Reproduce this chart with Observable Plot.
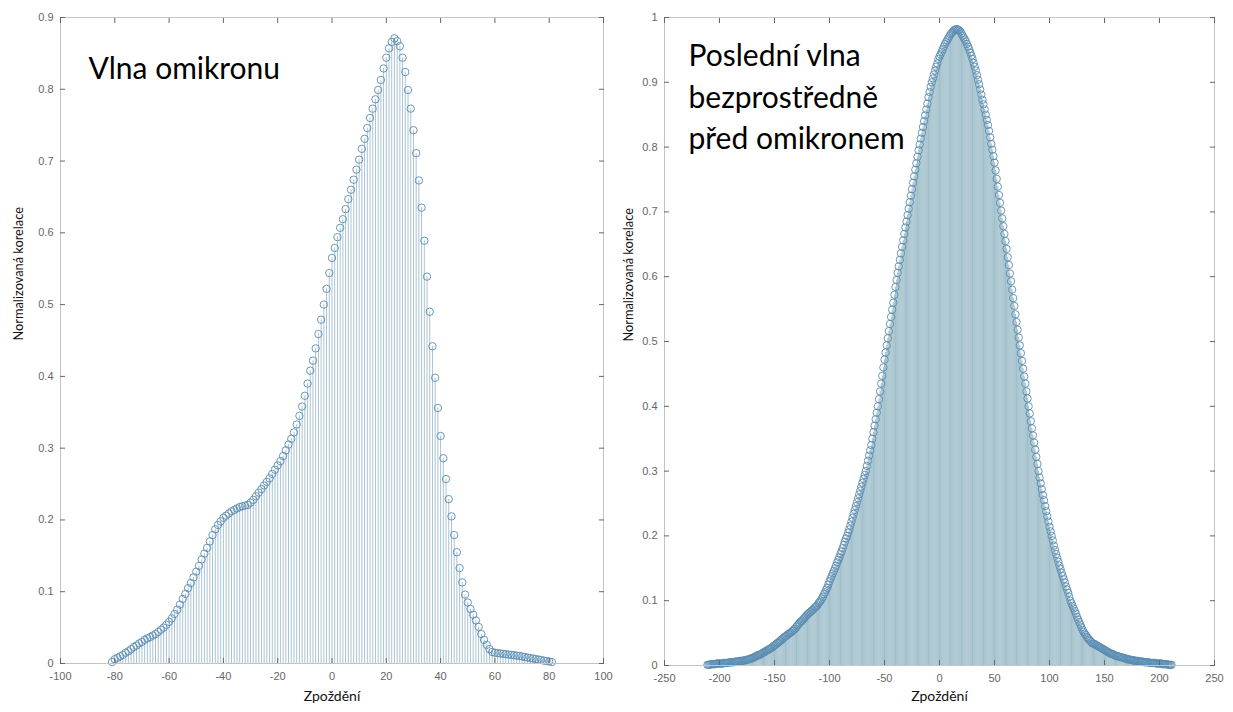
<!DOCTYPE html>
<html>
<head>
<meta charset="utf-8">
<script src="https://cdn.jsdelivr.net/npm/d3@7"></script>
<script src="https://cdn.jsdelivr.net/npm/@observablehq/plot@0.6"></script>
<style>
  html, body { margin: 0; padding: 0; background: #fff; }
  #wrap { position: relative; width: 1233px; height: 712px; overflow: hidden; }
  .panel { position: absolute; top: 0; }
</style>
</head>
<body>
<div id="wrap">
  <div class="panel" id="left" style="left:0px"></div>
  <div class="panel" id="right" style="left:616px"></div>
</div>
<script>
// ---------- DATA ----------
// Left panel: "Vlna omikronu", lags -81 .. 81 (step 1)
const omikronLagStart = -81;
const omikronValues = [
  0.002,0.006,0.008,0.010,0.012,0.015,0.017,0.020,0.023,0.025,
  0.028,0.030,0.033,0.035,0.037,0.039,0.041,0.044,0.047,0.050,
  0.054,0.058,0.063,0.069,0.075,0.082,0.090,0.097,0.105,0.112,
  0.120,0.128,0.136,0.145,0.153,0.161,0.170,0.179,0.187,0.193,
  0.198,0.203,0.206,0.209,0.212,0.214,0.216,0.218,0.219,0.220,
  0.221,0.224,0.228,0.233,0.238,0.243,0.248,0.253,0.258,0.264,
  0.270,0.276,0.282,0.289,0.297,0.305,0.313,0.322,0.333,0.345,
  0.358,0.373,0.390,0.408,0.422,0.439,0.459,0.479,0.500,0.522,
  0.544,0.565,0.579,0.594,0.607,0.619,0.633,0.647,0.660,0.674,
  0.688,0.702,0.717,0.731,0.746,0.760,0.773,0.786,0.799,0.813,
  0.829,0.844,0.857,0.866,0.871,0.867,0.860,0.844,0.824,0.799,
  0.773,0.743,0.711,0.673,0.635,0.589,0.539,0.490,0.442,0.398,
  0.356,0.317,0.286,0.257,0.229,0.205,0.179,0.155,0.133,0.113,
  0.096,0.085,0.076,0.068,0.060,0.051,0.041,0.033,0.026,0.020,
  0.016,0.015,0.0145,0.014,0.0135,0.013,0.0125,0.012,0.0115,0.011,
  0.0105,0.0098,0.009,0.0083,0.0075,0.007,0.0063,0.0055,0.005,0.004,
  0.0035,0.0028,0.002
];

// Right panel: "Poslední vlna bezprostředně před omikronem", lags -211 .. 211
const predLagStart = -211;
const predValues = [
  0.001,0.001,0.001,0.002,0.002,0.002,0.002,0.002,0.003,0.003,0.003,
  0.003,0.003,0.003,0.003,0.004,0.004,0.004,0.004,0.004,0.005,
  0.005,0.005,0.005,0.005,0.006,0.006,0.006,0.006,0.007,0.007,
  0.007,0.007,0.008,0.008,0.008,0.009,0.009,0.010,0.010,0.011,
  0.012,0.012,0.013,0.014,0.015,0.016,0.016,0.017,0.018,0.019,
  0.020,0.021,0.022,0.023,0.024,0.025,0.026,0.027,0.028,0.030,
  0.031,0.032,0.034,0.035,0.036,0.038,0.039,0.041,0.042,0.044,
  0.045,0.046,0.048,0.049,0.050,0.051,0.053,0.054,0.056,0.057,
  0.060,0.062,0.064,0.066,0.068,0.069,0.071,0.073,0.075,0.077,
  0.079,0.080,0.082,0.083,0.085,0.086,0.088,0.090,0.091,0.093,
  0.096,0.098,0.100,0.103,0.106,0.110,0.113,0.117,0.120,0.125,
  0.130,0.134,0.138,0.142,0.146,0.150,0.154,0.159,0.163,0.167,
  0.172,0.176,0.181,0.186,0.191,0.196,0.200,0.205,0.210,0.216,
  0.222,0.228,0.234,0.240,0.246,0.252,0.258,0.264,0.270,0.276,
  0.282,0.288,0.294,0.300,0.308,0.316,0.324,0.332,0.340,0.350,
  0.360,0.370,0.380,0.390,0.400,0.411,0.423,0.435,0.447,0.460,
  0.472,0.483,0.494,0.505,0.516,0.527,0.538,0.549,0.560,0.572,
  0.584,0.595,0.606,0.616,0.626,0.636,0.646,0.656,0.666,0.676,
  0.685,0.695,0.705,0.715,0.725,0.735,0.745,0.755,0.765,0.775,
  0.785,0.795,0.804,0.813,0.822,0.831,0.840,0.849,0.858,0.867,
  0.877,0.885,0.893,0.900,0.906,0.912,0.918,0.924,0.929,0.936,
  0.940,0.943,0.947,0.951,0.955,0.959,0.962,0.965,0.968,0.971,
  0.974,0.976,0.978,0.980,0.981,0.982,0.982,0.981,0.980,0.978,
  0.975,0.972,0.969,0.966,0.963,0.959,0.955,0.951,0.946,0.941,
  0.936,0.930,0.924,0.918,0.911,0.904,0.897,0.889,0.881,0.873,
  0.866,0.858,0.850,0.842,0.834,0.825,0.815,0.805,0.796,0.786,
  0.776,0.764,0.751,0.739,0.726,0.714,0.702,0.690,0.678,0.666,
  0.655,0.643,0.630,0.618,0.605,0.593,0.580,0.567,0.555,0.542,
  0.530,0.518,0.506,0.494,0.482,0.470,0.458,0.446,0.435,0.423,
  0.412,0.400,0.389,0.377,0.366,0.355,0.344,0.333,0.322,0.311,
  0.300,0.290,0.281,0.272,0.263,0.255,0.246,0.238,0.230,0.222,
  0.214,0.207,0.200,0.193,0.185,0.178,0.172,0.166,0.160,0.154,
  0.149,0.143,0.138,0.133,0.128,0.122,0.117,0.112,0.106,0.100,
  0.096,0.092,0.088,0.084,0.080,0.075,0.071,0.067,0.063,0.059,
  0.055,0.052,0.049,0.047,0.044,0.042,0.040,0.038,0.036,0.034,
  0.034,0.033,0.032,0.031,0.030,0.029,0.028,0.027,0.026,0.025,
  0.024,0.023,0.022,0.021,0.020,0.019,0.018,0.018,0.017,0.016,
  0.015,0.015,0.014,0.014,0.013,0.013,0.012,0.012,0.011,0.011,
  0.010,0.010,0.009,0.009,0.009,0.008,0.008,0.008,0.007,0.007,
  0.007,0.007,0.006,0.006,0.006,0.006,0.005,0.005,0.005,0.005,
  0.005,0.004,0.004,0.004,0.004,0.004,0.004,0.003,0.003,0.003,
  0.003,0.003,0.003,0.002,0.002,0.002,0.002,0.002,0.001,0.001,0.001,0.001
];

// Axis ticks
const leftXTicks = [-100, -80, -60, -40, -20, 0, 20, 40, 60, 80, 100];
const leftYTicks = [0, 0.1, 0.2, 0.3, 0.4, 0.5, 0.6, 0.7, 0.8, 0.9];
const rightXTicks = [-250, -200, -150, -100, -50, 0, 50, 100, 150, 200, 250];
const rightYTicks = [0, 0.1, 0.2, 0.3, 0.4, 0.5, 0.6, 0.7, 0.8, 0.9, 1];

// Texts
const leftTitle = "Vlna omikronu";
const rightTitle = "Poslední vlna\nbezprostředně\npřed omikronem";
const yLabel = "Normalizovaná korelace";
const xLabel = "Zpoždění";

// ---------- BUILD ----------
const toRows = (start, vals) => vals.map((v, i) => ({lag: start + i, v}));
const omikron = toRows(omikronLagStart, omikronValues);
const pred = toRows(predLagStart, predValues);

const fmt = d => String(d);
const tickColor = "#666";
const labelFont = "Lato, 'Open Sans', sans-serif";

function panel({data, xDomain, yDomain, xTicks, yTicks, title, margins, stem, yLabelDx, yLabelSize, xLabelDy, titleDx, titleDy, titleLH}) {
  return Plot.plot({
    width: margins.width,
    height: 712,
    marginLeft: margins.left,
    marginRight: margins.right,
    marginTop: margins.top,
    marginBottom: margins.bottom,
    style: {fontFamily: "'Liberation Sans', Arial, sans-serif", fontSize: "11px", background: "transparent", overflow: "visible"},
    x: {domain: xDomain, label: null},
    y: {domain: yDomain, label: null},
    marks: [
      Plot.ruleX(data, {x: "lag", y1: 0, y2: "v", stroke: stem.color, strokeWidth: stem.width, strokeOpacity: stem.opacity}),
      Plot.dot(data, {x: "lag", y: "v", r: 3.7, stroke: "#5a8cb2", strokeWidth: 0.9, fill: "none"}),
      Plot.frame({stroke: "#c4c4c4"}),
      Plot.axisX(xTicks, {anchor: "bottom", tickSize: -5, tickPadding: 14, tickFormat: fmt, color: tickColor, fontSize: 11}),
      Plot.axisX(xTicks, {anchor: "top", tickSize: -5, tickFormat: () => "", color: tickColor}),
      Plot.axisY(yTicks, {anchor: "left", tickSize: -5, tickPadding: 12, tickFormat: fmt, color: tickColor, fontSize: 11}),
      Plot.axisY(yTicks, {anchor: "right", tickSize: -5, tickFormat: () => "", color: tickColor}),
      Plot.text([yLabel], {text: d => d, frameAnchor: "left", dx: yLabelDx, rotate: -90, fontSize: yLabelSize, fontFamily: labelFont, fill: "#111"}),
      Plot.text([xLabel], {text: d => d, frameAnchor: "bottom", dy: xLabelDy, fontSize: 14, fontFamily: labelFont, fill: "#111"}),
      Plot.text([title], {text: d => d, frameAnchor: "top-left", textAnchor: "start", lineAnchor: "middle", dx: titleDx, dy: titleDy, lineHeight: titleLH, fontSize: 30, fontFamily: labelFont, fill: "#000"})
    ]
  });
}

document.getElementById("left").appendChild(panel({
  data: omikron,
  xDomain: [-100, 100], yDomain: [0, 0.9],
  xTicks: leftXTicks, yTicks: leftYTicks,
  title: leftTitle,
  margins: {width: 616, left: 60, right: 13, top: 17, bottom: 49},
  stem: {color: "#6f9bb6", width: 0.8, opacity: 0.75},
  yLabelDx: -42, yLabelSize: 12.8, xLabelDy: 37, titleDx: 28, titleDy: 48, titleLH: 1.38
}));

document.getElementById("right").appendChild(panel({
  data: pred,
  xDomain: [-250, 250], yDomain: [0, 1],
  xTicks: rightXTicks, yTicks: rightYTicks,
  title: rightTitle,
  margins: {width: 617, left: 48, right: 19, top: 17, bottom: 47},
  stem: {color: "#35768f", width: 0.7, opacity: 0.68},
  yLabelDx: -36, yLabelSize: 12.8, xLabelDy: 35, titleDx: 24, titleDy: 77, titleLH: 1.38
}));
</script>
</body>
</html>
